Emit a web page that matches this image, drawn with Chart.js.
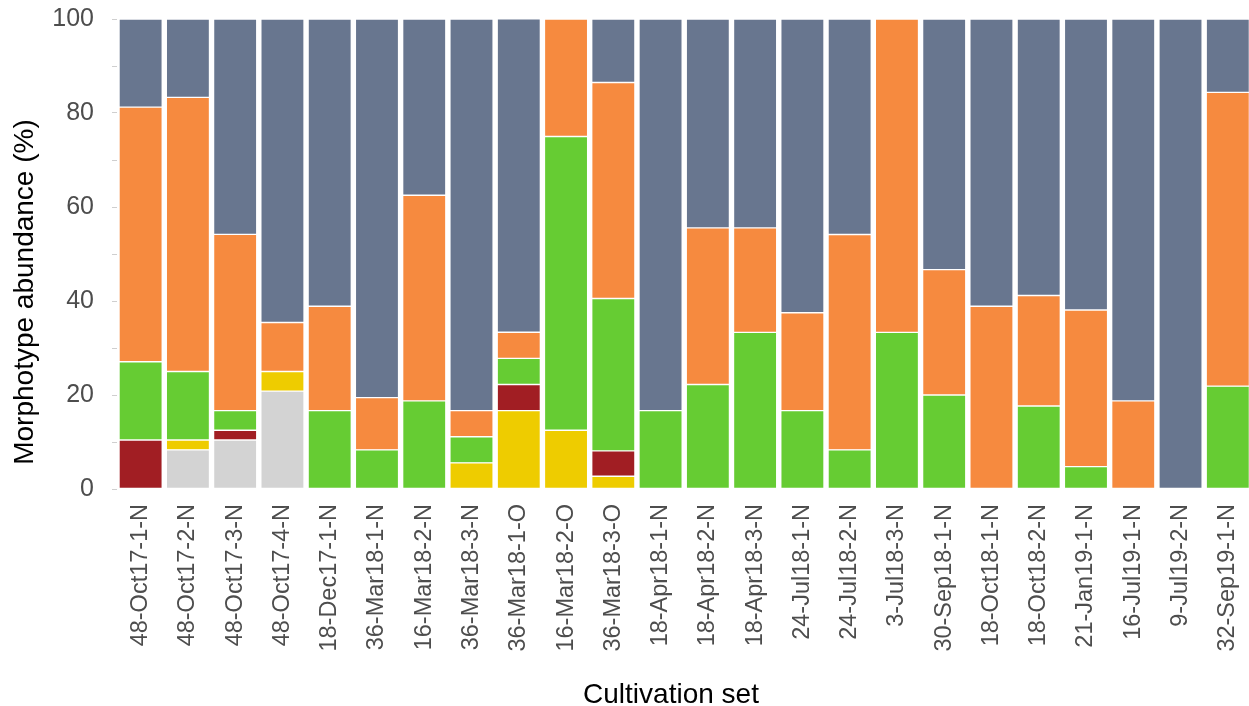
<!DOCTYPE html>
<html lang="en">
<head>
    <meta charset="UTF-8">
    <title>Morphotype abundance by cultivation set</title>
    <script src="https://cdn.jsdelivr.net/npm/chart.js@4.4.1/dist/chart.umd.min.js"></script>
    <style>
        html, body { margin: 0; padding: 0; background: #fff; overflow: hidden; }
        /* plot runs past the right edge of the window, like the original */
        .chart-box { width: 1263px; height: 706px; position: relative; }
    </style>
</head>
<body>
    <div class="chart-box">
        <canvas id="morphChart"></canvas>
    </div>
    <script>
        // categories (cultivation sets)
        const cultivationSets = [
            '48-Oct17-1-N', '48-Oct17-2-N', '48-Oct17-3-N', '48-Oct17-4-N',
            '18-Dec17-1-N', '36-Mar18-1-N', '16-Mar18-2-N', '36-Mar18-3-N',
            '36-Mar18-1-O', '16-Mar18-2-O', '36-Mar18-3-O', '18-Apr18-1-N',
            '18-Apr18-2-N', '18-Apr18-3-N', '24-Jul18-1-N', '24-Jul18-2-N',
            '3-Jul18-3-N', '30-Sep18-1-N', '18-Oct18-1-N', '18-Oct18-2-N',
            '21-Jan19-1-N', '16-Jul19-1-N', '9-Jul19-2-N', '32-Sep19-1-N'
        ];

        // morphotype abundance (%), stacked bottom to top
        const lightGrayValues = [0, 8.33, 10.42, 20.83, 0, 0, 0, 0, 0, 0, 0, 0, 0, 0, 0, 0, 0, 0, 0, 0, 0, 0, 0, 0];
        const yellowValues    = [0, 2.08, 0, 4.17, 0, 0, 0, 5.56, 16.67, 12.5, 2.70, 0, 0, 0, 0, 0, 0, 0, 0, 0, 0, 0, 0, 0];
        const darkRedValues   = [10.42, 0, 2.08, 0, 0, 0, 0, 0, 5.56, 0, 5.41, 0, 0, 0, 0, 0, 0, 0, 0, 0, 0, 0, 0, 0];
        const greenValues     = [16.67, 14.58, 4.17, 0, 16.67, 8.33, 18.75, 5.56, 5.56, 62.5, 32.43, 16.67, 22.22, 33.33, 16.67, 8.33, 33.33, 20, 0, 17.65, 4.76, 0, 0, 21.88];
        const orangeValues    = [54.17, 58.33, 37.5, 10.42, 22.22, 11.11, 43.75, 5.56, 5.56, 25, 45.95, 0, 33.33, 22.22, 20.83, 45.83, 66.67, 26.67, 38.89, 23.53, 33.33, 18.75, 0, 62.5];
        const slateValues     = [18.75, 16.67, 45.83, 64.58, 61.11, 80.56, 37.5, 83.33, 66.67, 0, 13.51, 83.33, 44.44, 44.44, 62.5, 45.83, 0, 53.33, 61.11, 58.82, 61.9, 81.25, 100, 15.62];

        // y-axis ticks
        const yTickValues = [0, 10, 20, 30, 40, 50, 60, 70, 80, 90, 100];
        const yLabelledTicks = [0, 20, 40, 60, 80, 100];

        const xTitle = 'Cultivation set';
        const yTitle = 'Morphotype abundance (%)';

        Chart.defaults.font.family = '"Liberation Sans", Arial, sans-serif';

        function makeSet(name, values, color) {
            return {
                label: name,
                data: values,
                backgroundColor: color,
                borderColor: 'rgba(255,255,255,0.55)',
                borderWidth: 0.7,
                borderSkipped: false,
                barPercentage: 0.915,
                categoryPercentage: 1.0
            };
        }

        // axis titles sit a little off the panel centre in the original
        const axisTitles = {
            id: 'axisTitles',
            afterDraw(chart) {
                const ctx = chart.ctx;
                ctx.save();
                ctx.fillStyle = '#000000';
                ctx.font = '28px "Liberation Sans", Arial, sans-serif';
                ctx.textAlign = 'center';
                ctx.textBaseline = 'alphabetic';
                ctx.fillText(xTitle, 671, 703);
                ctx.translate(33, 292);
                ctx.rotate(-Math.PI / 2);
                ctx.fillText(yTitle, 0, 0);
                ctx.restore();
            }
        };

        const ctx = document.getElementById('morphChart').getContext('2d');
        new Chart(ctx, {
            type: 'bar',
            data: {
                labels: cultivationSets,
                datasets: [
                    makeSet('Light gray', lightGrayValues, '#D3D3D3'),
                    makeSet('Yellow', yellowValues, '#EECC00'),
                    makeSet('Dark red', darkRedValues, '#A11E23'),
                    makeSet('Green', greenValues, '#66CC33'),
                    makeSet('Orange', orangeValues, '#F68A3F'),
                    makeSet('Slate', slateValues, '#68768F')
                ]
            },
            options: {
                responsive: true,
                maintainAspectRatio: false,
                animation: false,
                layout: { padding: { top: 19, right: 0, bottom: 0, left: 0 } },
                scales: {
                    x: {
                        stacked: true,
                        offset: true,
                        grid: { display: false },
                        border: { display: false },
                        ticks: {
                            autoSkip: false,
                            minRotation: 90,
                            maxRotation: 90,
                            padding: 7,
                            color: '#4d4d4d',
                            font: { size: 23.5 }
                        },
                        afterFit(scale) { scale.height = 217; }
                    },
                    y: {
                        stacked: true,
                        min: 0,
                        max: 100,
                        afterBuildTicks(scale) {
                            scale.ticks = yTickValues.map(v => ({ value: v }));
                        },
                        grid: {
                            drawOnChartArea: false,
                            drawTicks: true,
                            tickLength: 5,
                            color: '#cfcfcf',
                            lineWidth: 1
                        },
                        border: { display: false },
                        ticks: {
                            padding: 18,
                            color: '#4d4d4d',
                            font: { size: 25 },
                            callback: function(value) {
                                return yLabelledTicks.includes(value) ? value : '';
                            }
                        },
                        afterFit(scale) {
                            scale.width = 117;
                            // tick padding should not push the panel down
                            scale.paddingTop = 0;
                            scale.paddingBottom = 0;
                        }
                    }
                },
                plugins: {
                    legend: { display: false },
                    tooltip: { enabled: false }
                }
            },
            plugins: [axisTitles]
        });
    </script>
</body>
</html>
